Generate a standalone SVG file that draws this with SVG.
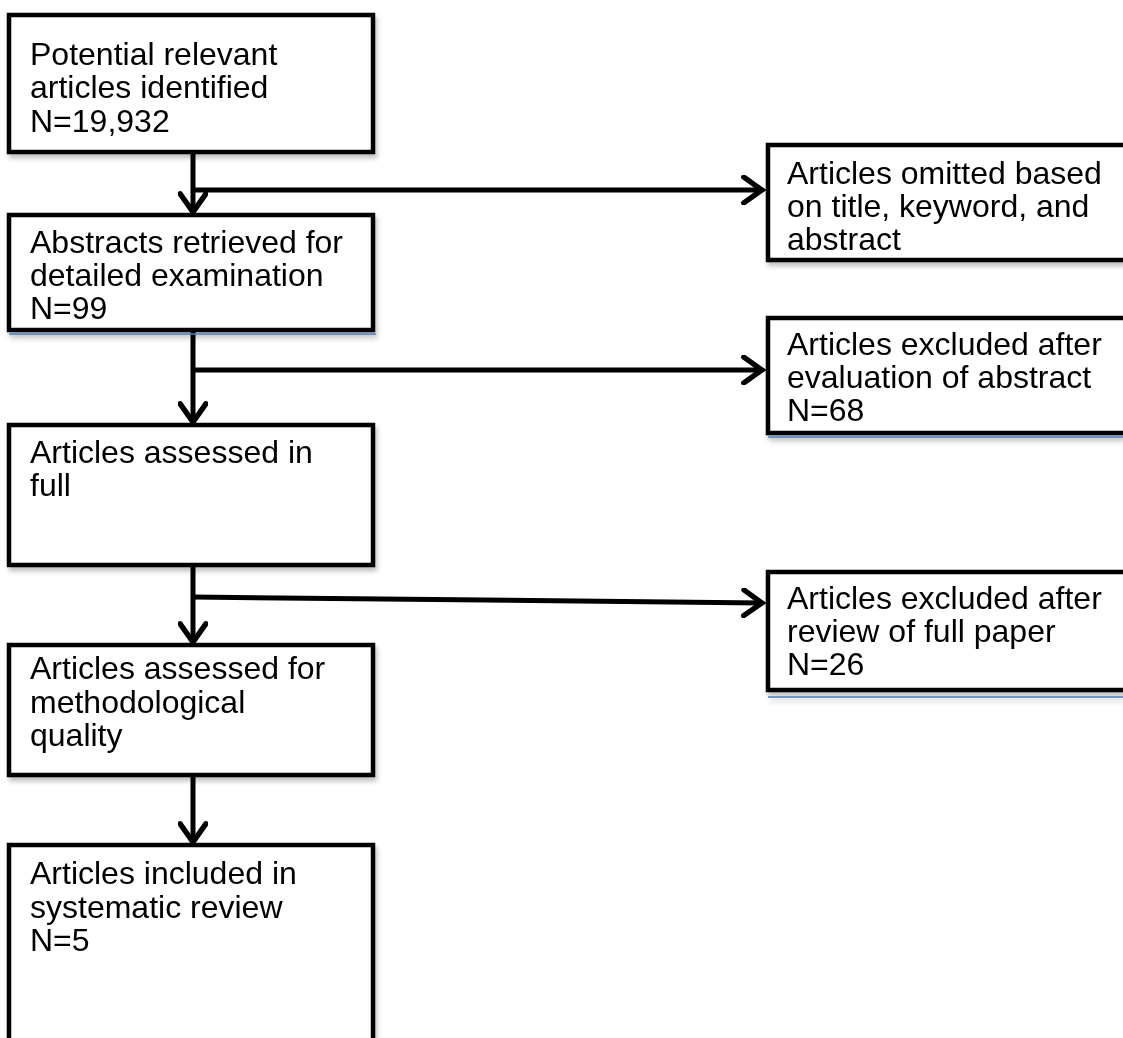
<svg xmlns="http://www.w3.org/2000/svg" width="1123" height="1038" viewBox="0 0 1123 1038">
  <style>
    .box { fill: #ffffff; stroke: #000000; stroke-width: 4.5; }
    .t { font-family: "Liberation Sans", Arial, sans-serif; font-size: 32px; fill: #000000; }
    .con { fill: none; stroke: #000000; stroke-width: 5; }
    .blue { fill: none; stroke: #4a7ebb; stroke-width: 1.5; }
  </style>
  <defs>
    <filter id="sh" x="-5%" y="-5%" width="115%" height="120%">
      <feGaussianBlur in="SourceAlpha" stdDeviation="2.5"/>
      <feOffset dx="2" dy="4" result="b"/>
      <feComponentTransfer><feFuncA type="linear" slope="0.25"/></feComponentTransfer>
      <feMerge><feMergeNode/><feMergeNode in="SourceGraphic"/></feMerge>
    </filter>
    <marker id="arr" markerUnits="userSpaceOnUse" markerWidth="30" markerHeight="30" viewBox="-20 -14 24 28" refX="0" refY="0" orient="auto">
      <path d="M-17,-12 L0,0 L-17,12" fill="none" stroke="#000000" stroke-width="5" stroke-linecap="round" stroke-linejoin="miter"/>
    </marker>
  </defs>
  <rect width="1123" height="1038" fill="#ffffff"/>

  <g id="connectors">
    <line class="con" x1="193" y1="152" x2="193" y2="212" marker-end="url(#arr)"/>
    <line class="con" x1="193" y1="190" x2="762" y2="190" marker-end="url(#arr)"/>
    <line class="con" x1="193" y1="330" x2="193" y2="422" marker-end="url(#arr)"/>
    <line class="con" x1="193" y1="370" x2="762" y2="370" marker-end="url(#arr)"/>
    <line class="con" x1="193" y1="565" x2="193" y2="642" marker-end="url(#arr)"/>
    <line class="con" x1="193" y1="597" x2="762" y2="603" marker-end="url(#arr)"/>
    <line class="con" x1="193" y1="775" x2="193" y2="842" marker-end="url(#arr)"/>
  </g>

  <g id="n1" filter="url(#sh)">
    <rect class="box" x="9" y="15" width="364" height="137"/>
    <text class="t" x="30" y="65">Potential relevant</text>
    <text class="t" x="30" y="98">articles identified</text>
    <text class="t" x="30" y="132">N=19,932</text>
  </g>

  <g id="n2" filter="url(#sh)">
    <rect class="box" x="768" y="145" width="370" height="115"/>
    <text class="t" x="787" y="184">Articles omitted based</text>
    <text class="t" x="787" y="217">on title, keyword, and</text>
    <text class="t" x="787" y="250">abstract</text>
  </g>

  <g id="n3" filter="url(#sh)">
    <rect class="box" x="9" y="215" width="364" height="115"/>
    <line class="blue" x1="9" y1="334" x2="376" y2="334"/>
    <text class="t" x="30" y="253">Abstracts retrieved for</text>
    <text class="t" x="30" y="286">detailed examination</text>
    <text class="t" x="30" y="319">N=99</text>
  </g>

  <g id="n4" filter="url(#sh)">
    <rect class="box" x="768" y="318" width="370" height="115"/>
    <line class="blue" x1="768" y1="437" x2="1123" y2="437"/>
    <text class="t" x="787" y="355">Articles excluded after</text>
    <text class="t" x="787" y="388">evaluation of abstract</text>
    <text class="t" x="787" y="421">N=68</text>
  </g>

  <g id="n5" filter="url(#sh)">
    <rect class="box" x="9" y="425" width="364" height="140"/>
    <text class="t" x="30" y="463">Articles assessed in</text>
    <text class="t" x="30" y="496">full</text>
  </g>

  <g id="n6" filter="url(#sh)">
    <rect class="box" x="768" y="572" width="370" height="118"/>
    <line class="blue" x1="768" y1="697" x2="1123" y2="697"/>
    <text class="t" x="787" y="609">Articles excluded after</text>
    <text class="t" x="787" y="642">review of full paper</text>
    <text class="t" x="787" y="675">N=26</text>
  </g>

  <g id="n7" filter="url(#sh)">
    <rect class="box" x="9" y="645" width="364" height="130"/>
    <text class="t" x="30" y="679">Articles assessed for</text>
    <text class="t" x="30" y="713">methodological</text>
    <text class="t" x="30" y="746">quality</text>
  </g>

  <g id="n8" filter="url(#sh)">
    <rect class="box" x="9" y="845" width="364" height="210"/>
    <text class="t" x="30" y="884">Articles included in</text>
    <text class="t" x="30" y="918">systematic review</text>
    <text class="t" x="30" y="951">N=5</text>
  </g>
</svg>
